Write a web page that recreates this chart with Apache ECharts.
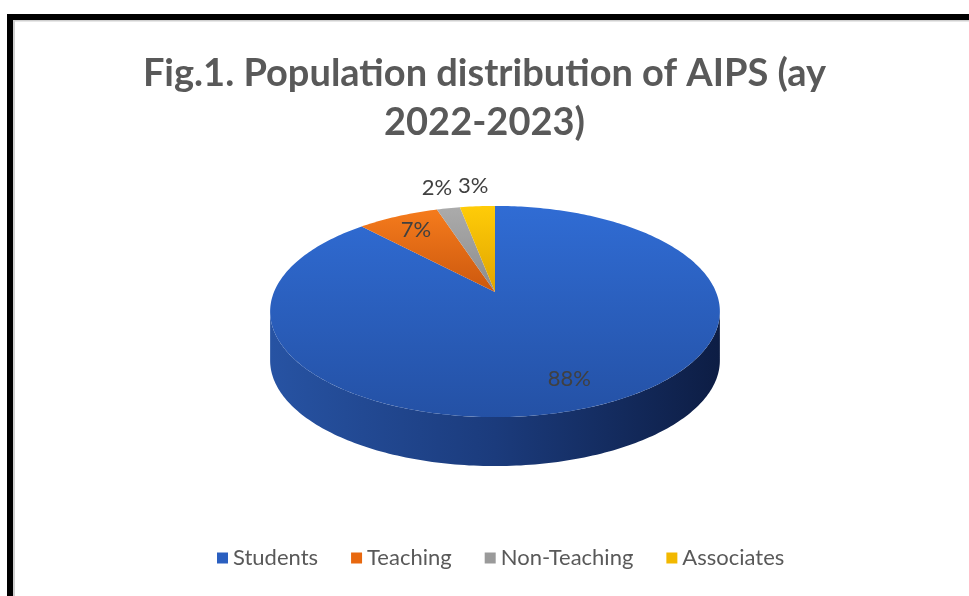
<!DOCTYPE html>
<html>
<head>
<meta charset="utf-8">
<script src="https://cdn.jsdelivr.net/npm/echarts@6/dist/echarts.min.js"></script>
<style>
  html, body { margin: 0; padding: 0; background: #fff; }
  #chart { width: 969px; height: 596px; }
</style>
</head>
<body>
<div id="chart"></div>
<script>
// ---- data ----
const categories = ['Students', 'Teaching', 'Non-Teaching', 'Associates'];
const values = [88, 7, 2, 3];
const titleLines = ['Fig.1. Population distribution of AIPS (ay', '2022-2023)'];

// ---- styles ----
const legendColors = ['#2a5fc0', '#e8680f', '#9a9a9a', '#f2b800'];
const topColors = [
  ['#306cd4', '#2451a5'],
  ['#f57b1c', '#cc580e'],
  ['#ababab', '#8c8c8c'],
  ['#ffcc08', '#e0a400']
];
const sideColors = [
  ['#2753a3', '#1b3b7c', '#0d1d44'],
  ['#b04a0a', '#8a3a08', '#6a2c06'],
  ['#7a7a7a', '#666', '#505050'],
  ['#c08c00', '#a07400', '#805c00']
];
const FONT = 'Lato, "Open Sans", sans-serif';
const PERSP = 0.1848;   // perspective factor
const DEPTH = 0.48;     // pie thickness in y-axis units
const total = values.reduce((a, b) => a + b, 0);
const thetaL = Math.acos(-PERSP);
const thetaR = 2 * Math.PI - Math.acos(-PERSP);

function renderItem(params, api) {
  const i = params.seriesIndex;
  let before = 0;
  for (let k = 0; k < i; k++) before += values[k];
  const start = before / total * 2 * Math.PI;
  const end = (before + values[i]) / total * 2 * Math.PI;

  function proj(theta, r, drop) {
    const t = r * Math.cos(theta), s = r * Math.sin(theta);
    const d = 1 + PERSP * t;
    return api.coord([s / d, t / d - drop]);
  }
  function arc(a0, a1, drop) {
    const pts = [];
    const n = Math.max(2, Math.ceil((a1 - a0) / (Math.PI / 180)));
    for (let j = 0; j <= n; j++) pts.push(proj(a0 + (a1 - a0) * j / n, 1, drop));
    return pts;
  }
  const children = [];
  const s0 = Math.max(start, thetaL), s1 = Math.min(end, thetaR);
  if (s1 > s0) {
    const topArc = arc(s0, s1, 0);
    const botArc = arc(s0, s1, DEPTH).reverse();
    children.push({
      type: 'polygon', z2: 1,
      shape: { points: topArc.concat(botArc) },
      style: {
        fill: new echarts.graphic.LinearGradient(0, 0, 1, 0, [
          { offset: 0, color: sideColors[i][0] },
          { offset: 0.5, color: sideColors[i][1] },
          { offset: 1, color: sideColors[i][2] }
        ])
      }
    });
  }
  const facePts = [proj(0, 0, 0)].concat(arc(start, end, 0));
  children.push({
    type: 'polygon', z2: 5,
    shape: { points: facePts },
    style: {
      fill: new echarts.graphic.LinearGradient(0, 0, 0, 1, [
        { offset: 0, color: topColors[i][0] },
        { offset: 1, color: topColors[i][1] }
      ])
    }
  });
  const mid = (start + end) / 2;
  const inside = values[i] >= 5;
  const lp = proj(mid, inside ? 0.79 : 1.3, 0);
  children.push({
    type: 'text', z2: 10,
    x: lp[0], y: lp[1],
    style: {
      text: Math.round(values[i] / total * 100) + '%',
      fill: '#404040',
      font: '22px ' + FONT,
      align: 'center',
      verticalAlign: 'middle'
    }
  });
  return { type: 'group', children: children };
}

const chart = echarts.init(document.getElementById('chart'), null, { renderer: 'canvas' });
chart.setOption({
  animation: false,
  backgroundColor: '#ffffff',
  title: {
    text: titleLines.join('\n'),
    left: 'center',
    top: 44,
    textStyle: {
      fontFamily: FONT,
      fontSize: 38,
      fontWeight: 'bold',
      color: '#595959',
      lineHeight: 49
    }
  },
  legend: {
    data: categories,
    bottom: 22,
    left: 212,
    icon: 'rect',
    itemWidth: 11,
    itemHeight: 11,
    itemGap: 33,
    textStyle: { fontFamily: FONT, fontSize: 22, color: '#595959' }
  },
  grid: { left: 274, top: 190, width: 442, height: 204, containLabel: false },
  xAxis: { type: 'value', min: -1, max: 1, show: false },
  yAxis: { type: 'value', min: -1, max: 1, show: false },
  graphic: [
    { type: 'rect', shape: { x: 7, y: 14, width: 962, height: 6 }, style: { fill: '#000' }, z: 100 },
    { type: 'rect', shape: { x: 7, y: 14, width: 6, height: 582 }, style: { fill: '#000' }, z: 100 },
    { type: 'rect', shape: { x: 13, y: 20, width: 956, height: 1.5 }, style: { fill: '#cfcfcf' }, z: 100 },
    { type: 'rect', shape: { x: 13, y: 20, width: 2, height: 576 }, style: { fill: '#cfcfcf' }, z: 100 }
  ],
  series: categories.map((name, i) => ({
    type: 'custom',
    name: name,
    coordinateSystem: 'cartesian2d',
    clip: false,
    itemStyle: { color: legendColors[i] },
    data: [[0, 0, values[i]]],
    renderItem: renderItem
  }))
});
</script>
</body>
</html>
